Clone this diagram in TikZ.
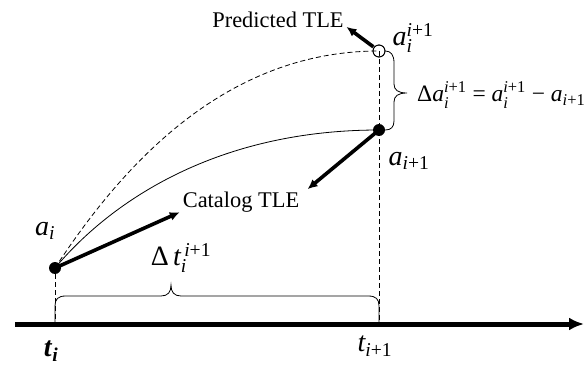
\documentclass[tikz,border=0pt]{standalone}
\usepackage{amsmath}
\usepackage[no-math]{fontspec}
\setmainfont{Liberation Serif}
\usetikzlibrary{arrows.meta}
% italic letter with text-font scripts
\newcommand{\va}[1]{\textit{#1}}
\newcommand{\ip}{\textit{i}\textup{+1}}

\begin{document}
\begin{tikzpicture}[
        x=1pt, y=-1pt,
        every node/.style={align=center, inner sep=0pt},
        txt/.style={font=\fontsize{22.4}{26}\selectfont},
        mlab/.style={font=\fontsize{28}{32}\selectfont},
        eqn/.style={font=\fontsize{23.5}{27}\selectfont},
        dot/.style={circle, fill=black, minimum size=12pt},
        ring/.style={circle, draw, line width=0.8pt, minimum size=12pt},
        arr/.style={-{Latex[length=10pt, width=9pt]}, line width=3.6pt, shorten >=-2pt},
        dsh/.style={dashed, dash pattern=on 5pt off 3pt, line width=0.8pt},
        brace/.style={line width=0.8pt}
    ]
        \useasboundingbox (0,0) rectangle (584,369);

        % time axis
        \coordinate (ax0) at (15,324);
        \coordinate (ax1) at (584,324);
        \coordinate (ti) at (55,324);
        \coordinate (tj) at (379,324);
        \draw[line width=5pt, -{Latex[length=15pt, width=13pt]}] (ax0) -- (ax1);

        % points
        \node[dot]  (ai) at (55,268) {};
        \node[dot]  (aj) at (379,130) {};
        \node[ring] (pr) at (379,51) {};

        % orbits
        \draw[line width=0.8pt] (ai.center) .. controls (113,199) and (219,130) .. (aj.center);
        \draw[dsh] (ai.center) .. controls (126,159) and (229,51) .. (pr.center);
        \draw[dsh] (ai) -- (ti);
        \draw[dsh] (pr.center) -- (tj);
        \node[ring] at (pr) {};

        % labels
        \node[txt] (pred) at (278,20) {Predicted TLE};
        \node[txt] (cat)  at (241,202) {Catalog TLE};
        \node[mlab] (lai) at (45,231) {$\va{a}_{\va{i}}$};
        \node[mlab] (laj) at (409,161) {$\va{a}_{\ip}$};
        \node[mlab] (lpr) at (413,38) {$\va{a}_{\va{i}}^{\ip}$};
        \node[mlab] (lti) at (51,351) {$\textbf{\textit{t}}_{\textbf{\textit{i}}}$};
        \node[mlab] (ltj) at (375,346) {$\va{t}_{\ip}$};
        \node[mlab] (ldt) at (181,258) {$\textup{Δ}\,\va{t}_{\va{i}}^{\,\ip}$};
        \node[eqn, anchor=west] (leq) at (417,95) {$\textup{Δ}\va{a}_{\va{i}}^{\ip}\textup{ = }\va{a}_{\va{i}}^{\ip}\textup{ − }\va{a}_{\ip}$};

        % arrows to the TLE labels
        \coordinate (catL) at (178,213);
        \coordinate (catR) at (309,188);
        \coordinate (predR) at (348,28);
        \draw[arr] (ai.center) -- (catL);
        \draw[arr] (aj.center) -- (catR);
        \draw[arr, shorten <=7pt] (pr.center) -- (predR);

        % braces
        \draw[brace] (ti) -- (55,306) .. controls (55,299) and (58,296) .. (66,296)
            -- (161,296) .. controls (168,296) and (171,292) .. (171,285)
            .. controls (171,292) and (174,296) .. (181,296)
            -- (368,296) .. controls (376,296) and (379,299) .. (379,306) -- (tj);
        \draw[brace] (pr.east) .. controls (391,51) and (394,55) .. (394,63)
            -- (394,84) .. controls (394,90) and (398,93) .. (407,93)
            .. controls (398,93) and (394,96) .. (394,102)
            -- (394,121) .. controls (394,127) and (391,130) .. (aj.east);
    \end{tikzpicture}
\end{document}
